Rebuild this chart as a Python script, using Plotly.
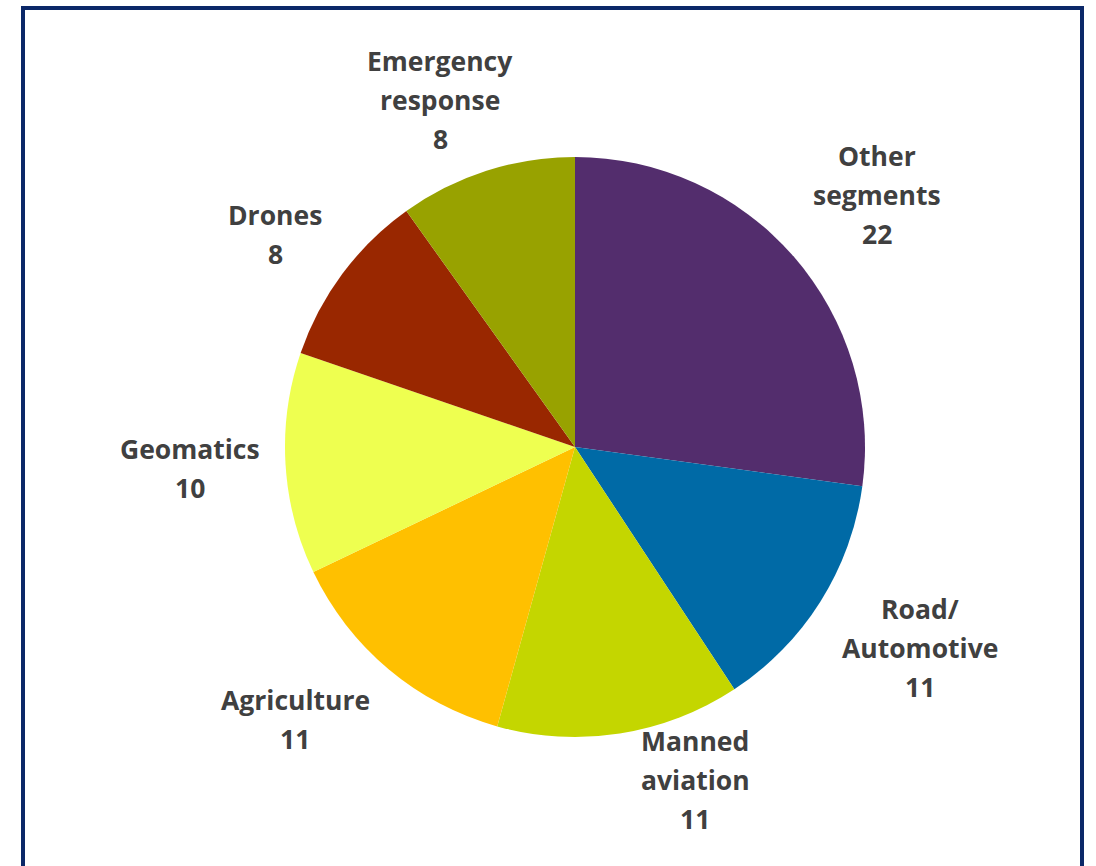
import math
import plotly.graph_objects as go

# Segment shares (clockwise from 12 o'clock)
segments = ["Other segments", "Road/ Automotive", "Manned aviation", "Agriculture",
            "Geomatics", "Drones", "Emergency response"]
label_lines = [["Other", "segments"], ["Road/", "Automotive"], ["Manned", "aviation"],
               ["Agriculture"], ["Geomatics"], ["Drones"], ["Emergency", "response"]]
values = [22, 11, 11, 11, 10, 8, 8]
colors = ["#532D6D", "#006AA6", "#C4D600", "#FFC000", "#EEFF50", "#992700", "#98A200"]

W, H = 1096, 866
CX, CY, R = 575, 447, 290          # pie centre and radius in pixels
LABEL_R = 1.34 * R                  # distance of label centres from pie centre
LINE_H = 39                         # label line pitch in pixels
# small hand adjustments (pixels) so labels sit clear of each other and the frame
label_nudge = [(9, -4), (16, 6), (60, 51), (-30, 25), (3, 1), (12, -20), (-16, -23)]

fig = go.Figure(go.Pie(
    labels=segments,
    values=values,
    sort=False,
    direction="clockwise",
    rotation=0,
    marker=dict(colors=colors, line=dict(width=0)),
    textinfo="none",
    hoverinfo="label+value",
    showlegend=False,
    domain=dict(x=[(CX - R) / W, (CX + R) / W], y=[1 - (CY + R) / H, 1 - (CY - R) / H]),
))

total = sum(values)
cum = 0
annotations = []
for lines, v, (nx, ny) in zip(label_lines, values, label_nudge):
    mid = (cum + v / 2) / total * 2 * math.pi
    cum += v
    px = CX + LABEL_R * math.sin(mid) + nx
    py = CY - LABEL_R * math.cos(mid) - ny
    rows = lines + [str(v)]
    for i, row in enumerate(rows):
        ry = py + (i - (len(rows) - 1) / 2) * LINE_H
        annotations.append(dict(
            x=px / W, y=1 - ry / H, xref="paper", yref="paper",
            text=row, showarrow=False, xanchor="center", yanchor="middle",
            font=dict(family="Open Sans", size=26.5, color="#404040", weight="bold"),
        ))

fig.update_layout(
    width=W, height=H,
    margin=dict(l=0, r=0, t=0, b=0),
    paper_bgcolor="white",
    plot_bgcolor="white",
    annotations=annotations,
    shapes=[dict(
        type="rect", xref="paper", yref="paper",
        x0=23 / W, x1=1082 / W, y0=-0.05, y1=1 - 8 / H,
        line=dict(color="#0B2868", width=4), fillcolor="rgba(0,0,0,0)", layer="above",
    )],
)

fig.write_html("out.html")
